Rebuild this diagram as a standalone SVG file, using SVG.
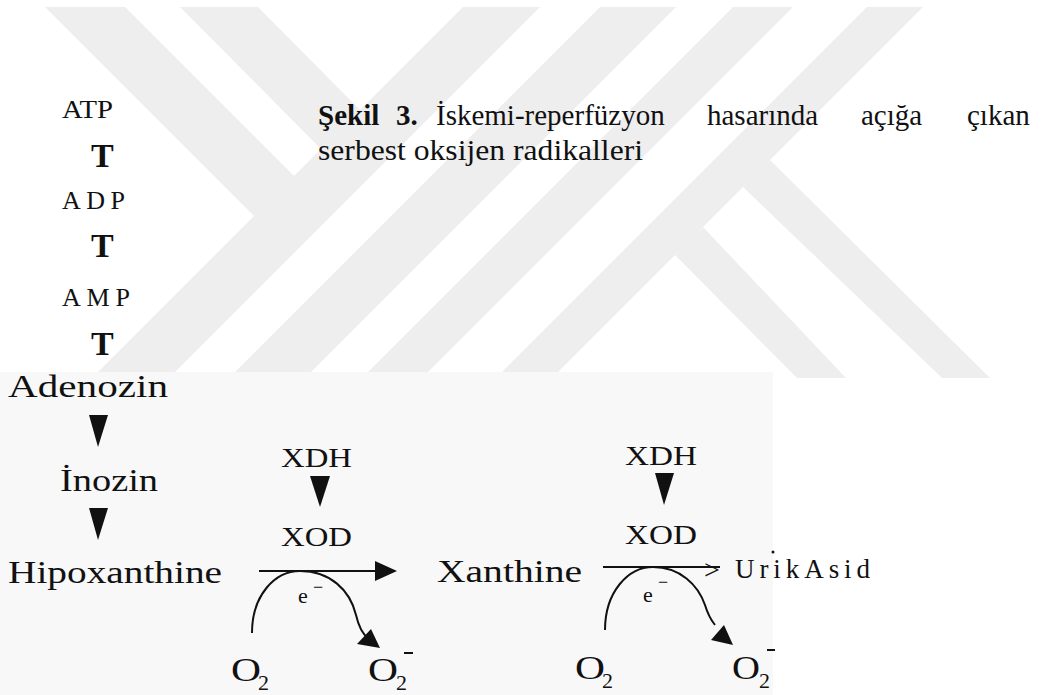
<svg xmlns="http://www.w3.org/2000/svg" width="1043" height="695" viewBox="0 0 1043 695">
<defs>
<style>
.t{font-family:"Liberation Serif","Times New Roman",serif;fill:#111}
.b{font-weight:bold}
.wm{fill:#eeeeee}
.ln{fill:none;stroke:#111;stroke-width:2}
.ah{fill:#111}
</style>
</defs>
<rect width="1043" height="695" fill="#ffffff"/>
<g id="watermark">
<polygon class="wm" points="45,7 125,7 294,176 254,216"/>
<polygon class="wm" points="180,7 258,7 360,110 321,149"/>
<polygon class="wm" points="463,7 540,7 175,372 98,372"/>
<polygon class="wm" points="600,7 676,7 311,372 235,372"/>
<polygon class="wm" points="733,7 793,7 428,372 368,372"/>
<polygon class="wm" points="867,7 923,7 558,372 502,372"/>
<polygon class="wm" points="675,255 703,227 846,378 797,378"/>
<polygon class="wm" points="743,187 770,160 990,378 942,378"/>
</g>
<rect x="0" y="372" width="773" height="323" fill="#f8f8f8"/>
<g id="caption">
<text class="t" font-size="29" y="125"><tspan class="b" x="318">Şekil</tspan><tspan class="b" x="396">3.</tspan><tspan x="436">İskemi-reperfüzyon</tspan><tspan x="707">hasarında</tspan><tspan x="861">açığa</tspan><tspan x="967">çıkan</tspan></text>
<text class="t" font-size="29" x="318" y="160" textLength="325" lengthAdjust="spacingAndGlyphs">serbest oksijen radikalleri</text>
</g>
<g id="atp"><text class="t" font-size="26" x="62" y="118" textLength="51" lengthAdjust="spacingAndGlyphs">ATP</text></g>
<g id="t1"><text class="t b" font-size="34" x="91" y="167">T</text></g>
<g id="adp"><text class="t" font-size="26" x="62" y="209" textLength="63" lengthAdjust="spacing">ADP</text></g>
<g id="t2"><text class="t b" font-size="34" x="91" y="257">T</text></g>
<g id="amp"><text class="t" font-size="26" x="62" y="306" textLength="68" lengthAdjust="spacing">AMP</text></g>
<g id="t3"><text class="t b" font-size="34" x="91" y="355">T</text></g>
<g id="adenozin"><text class="t" font-size="31" x="8" y="397" textLength="160" lengthAdjust="spacingAndGlyphs">Adenozin</text></g>
<g id="inozin"><text class="t" font-size="31" x="60" y="491" textLength="98" lengthAdjust="spacingAndGlyphs">İnozin</text></g>
<g id="hipoxanthine"><text class="t" font-size="31" x="8" y="583" textLength="214" lengthAdjust="spacingAndGlyphs">Hipoxanthine</text></g>
<g id="xdh1"><text class="t" font-size="27" x="281" y="467" textLength="71" lengthAdjust="spacingAndGlyphs">XDH</text></g>
<g id="xod1"><text class="t" font-size="27" x="281" y="546" textLength="71" lengthAdjust="spacingAndGlyphs">XOD</text></g>
<g id="xanthine"><text class="t" font-size="31" x="437" y="582" textLength="145" lengthAdjust="spacingAndGlyphs">Xanthine</text></g>
<g id="xdh2"><text class="t" font-size="27" x="625" y="465" textLength="72" lengthAdjust="spacingAndGlyphs">XDH</text></g>
<g id="xod2"><text class="t" font-size="27" x="625" y="544" textLength="72" lengthAdjust="spacingAndGlyphs">XOD</text></g>
<g id="urikasid"><text class="t" font-size="28" x="704" y="579">&gt;</text><text class="t" font-size="27" x="735" y="578" textLength="135" lengthAdjust="spacing">UrikAsid</text></g>
<g id="o2a"><text class="t" font-size="34" x="231" y="681" textLength="30" lengthAdjust="spacingAndGlyphs">O</text><text class="t" font-size="22" x="258" y="690">2</text></g>
<g id="o2b"><text class="t" font-size="34" x="368" y="681" textLength="30" lengthAdjust="spacingAndGlyphs">O</text><text class="t" font-size="22" x="396" y="690">2</text><rect x="404" y="652" width="9" height="2" fill="#111"/></g>
<g id="o2c"><text class="t" font-size="34" x="575" y="679" textLength="30" lengthAdjust="spacingAndGlyphs">O</text><text class="t" font-size="22" x="602" y="688">2</text></g>
<g id="o2d"><text class="t" font-size="34" x="732" y="679" textLength="28" lengthAdjust="spacingAndGlyphs">O</text><text class="t" font-size="22" x="759" y="688">2</text><rect x="767" y="649" width="8" height="2" fill="#111"/></g>
<g id="e1"><text class="t" font-size="22" x="298" y="603">e</text><text class="t" font-size="18" x="313" y="593">−</text></g>
<g id="e2"><text class="t" font-size="22" x="643" y="602">e</text><text class="t" font-size="18" x="658" y="588">−</text></g>
<g id="connectors">
<polygon class="ah" points="89,415 108,415 98,447"/>
<polygon class="ah" points="89,508 108,508 98,540"/>
<polygon class="ah" points="310,476 330,476 320,507"/>
<polygon class="ah" points="655,473 674,473 664,505"/>
<line class="ln" x1="259" y1="571" x2="378" y2="571"/>
<polygon class="ah" points="375,561 397,571 375,581"/>
<line class="ln" x1="603" y1="567" x2="720" y2="567"/>
<path class="ln" d="M252,633 C252,595 275,571 300,571 C330,571 350,590 356,615 C359,628 364,635 368,638"/>
<polygon class="ah" points="380,648 357,644 371,629"/>
<path class="ln" d="M605,630 C605,592 628,567 653,567 C680,567 698,585 705,605 C708,615 711,620 715,625"/>
<polygon class="ah" points="733,645 711,640 724,625"/>
<circle cx="773" cy="552" r="1.5" fill="#111"/>
</g>
</svg>
